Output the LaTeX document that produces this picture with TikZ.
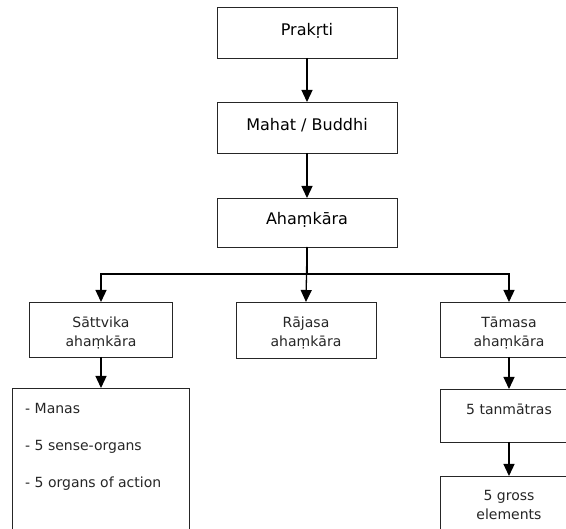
\documentclass[tikz,border=0pt]{standalone}
\usepackage{fontspec}
\setmainfont{DejaVu Sans}
\usetikzlibrary{arrows.meta}
\begin{document}
\begin{tikzpicture}[x=1pt,y=-1pt,
  box/.style={draw=black!85, line width=0.9pt, inner sep=0pt, outer sep=0pt},
  toptxt/.style={font={\fontsize{16}{19}\selectfont}, text=black, inner sep=0pt},
  lowtxt/.style={font={\fontsize{14}{19}\selectfont}, text=black!85, align=center, inner sep=0pt},
  listtxt/.style={font={\fontsize{14}{37}\selectfont}, text=black!85, align=left, inner sep=0pt, anchor=west},
  arr/.style={-{Triangle[width=11pt,length=12pt]}, line width=1.3pt, black}]
\useasboundingbox (0,0) rectangle (566,529);
\clip (0,0) rectangle (566,529);
\fill[white] (0,0) rectangle (566,529);
% boxes
\node[box, minimum width=180, minimum height=51] (prakriti) at (307,32.5) {};
\node[box, minimum width=180, minimum height=51] (mahat) at (307,127.5) {};
\node[box, minimum width=180, minimum height=49] (aham) at (307,222.5) {};
\node[box, minimum width=143, minimum height=55] (sattvika) at (101,329.5) {};
\node[box, minimum width=140, minimum height=56] (rajasa) at (306,330) {};
\node[box, minimum width=138, minimum height=55] (tamasa) at (509,329.5) {};
\node[box, minimum width=177, minimum height=146] (manas) at (100.5,461) {};
\node[box, minimum width=138, minimum height=53] (tanmatras) at (509,415.5) {};
\node[box, minimum width=138, minimum height=56] (gross) at (509,504) {};
% texts
\node[toptxt] (tprakriti) at (307,31) {Prakṛti};
\node[toptxt] (tmahat) at (307,125) {Mahat / Buddhi};
\node[toptxt] (taham) at (307,220) {Ahaṃkāra};
\node[lowtxt] (tsattvika) at (101,333) {Sāttvika\\ahaṃkāra};
\node[lowtxt] (trajasa) at (306,333) {Rājasa\\ahaṃkāra};
\node[lowtxt] (ttamasa) at (509,333) {Tāmasa\\ahaṃkāra};
\node[lowtxt] (ttanmatras) at (509,409) {5 tanmātras};
\node[lowtxt] (tgross) at (509,505) {5 gross\\elements};
\node[listtxt] (tmanas) at (25,447) {- Manas\\- 5 sense-organs\\- 5 organs of action};
% connectors
\draw[arr] (prakriti.south) -- (mahat.north);
\draw[arr] (mahat.south) -- (aham.north);
\draw[arr] (aham.south) -- (rajasa.north);
\draw[arr] (aham.south) -- ++(0,27) -| (sattvika.north);
\draw[arr] (aham.south) -- ++(0,27) -| (tamasa.north);
\draw[arr] (sattvika.south) -- (manas.north -| sattvika.south);
\draw[arr] (tamasa.south) -- (tanmatras.north);
\draw[arr] (tanmatras.south) -- (gross.north);
\end{tikzpicture}
\end{document}
